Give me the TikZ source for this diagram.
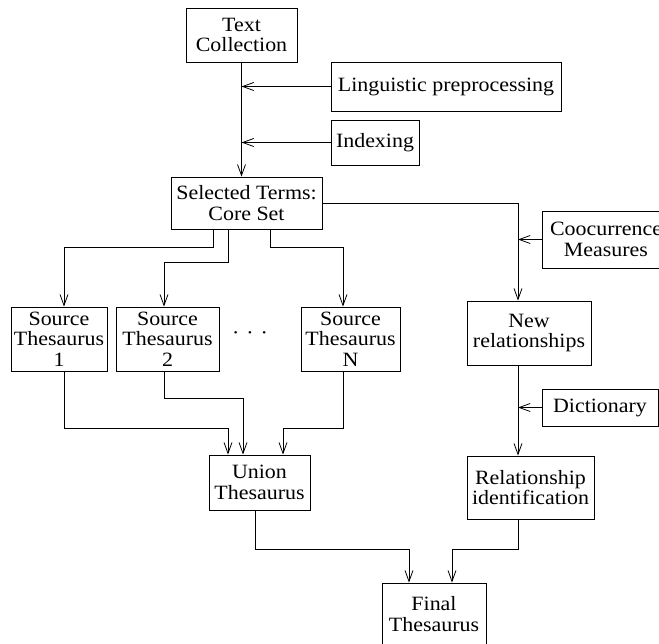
\documentclass[tikz,border=0pt]{standalone}
\usepackage{fontspec}
\setmainfont{Liberation Serif}[FakeStretch=1.08]
\usetikzlibrary{arrows.meta}
\tikzstyle{block} = [rectangle, draw, fill=white, line width=0.8pt,
                 align=center, inner sep=1pt,
                 font=\fontsize{20.3}{20.5}\selectfont]
\tikzstyle{branch} = [line width=0.8pt, draw]
\tikzstyle{feed} = [branch, -{Straight Barb[length=11pt,width=8pt]}]

\begin{document}
\begin{tikzpicture}[x=1pt, y=-1pt]

\clip (0,0) rectangle (659,644);

\node [block, minimum width=111pt, minimum height=54pt] at (241.5,35) (tc) {Text\\Collection};
\node [block, minimum width=230pt, minimum height=49pt] at (446,86.5) (ling) {Linguistic preprocessing};
\node [block, minimum width=88pt, minimum height=45pt] at (375,142.5) (idx) {Indexing};
\node [block, minimum width=151pt, minimum height=52pt] at (246.5,203) (sel) {Selected Terms:\\Core Set};

\node [block, minimum width=96pt, minimum height=64pt] at (59,339) (src1) {Source\\Thesaurus\\1};
\node [block, minimum width=103pt, minimum height=64pt] at (167.5,339) (src2) {Source\\Thesaurus\\2};
\node [block, minimum width=99pt, minimum height=64pt] at (350.5,339) (srcN) {Source\\Thesaurus\\N};
\node [font=\fontsize{20.3}{20.5}\selectfont] at (250,336) (dots) {·\hspace{7pt}·\hspace{7pt}·};

\node [block, minimum width=128pt, minimum height=57pt] at (606,239.5) (cooc) {Coocurrence\\Measures};
\node [block, minimum width=124pt, minimum height=64pt] at (529,333) (newrel) {New\\relationships};
\node [block, minimum width=116pt, minimum height=37pt] at (600,407.5) (dict) {Dictionary};
\node [block, minimum width=127pt, minimum height=63pt] at (530.5,487.5) (relid) {Relationship\\identification};

\node [block, minimum width=101pt, minimum height=55pt] at (259.5,482.5) (uni) {Union\\Thesaurus};
\node [block, minimum width=104pt, minimum height=62pt] at (434,614) (fin) {Final\\Thesaurus};

\coordinate (rbus) at ([xshift=-11pt]newrel.north);

%preprocessing
\path [feed] (tc.south) -- (tc.south |- sel.north);
\path [feed] (ling.west) -- (ling.west -| tc.south);
\path [feed] (idx.west) -- (idx.west -| tc.south);

%core set to sources
\path [feed] ([xshift=-33.5pt]sel.south) -- ++(0,18) -| ([xshift=5pt]src1.north);
\path [feed] ([xshift=-18.5pt]sel.south) -- ++(0,33) -| ([xshift=-3.5pt]src2.north);
\path [feed] ([xshift=23.5pt]sel.south) -- ++(0,18) -| ([xshift=-7.5pt]srcN.north);

%sources to union
\path [feed] ([xshift=5pt]src1.south) -- ++(0,57) -| ([xshift=-31.5pt]uni.north);
\path [feed] ([xshift=-3.5pt]src2.south) -- ++(0,27) -| ([xshift=-16.5pt]uni.north);
\path [feed] ([xshift=-7.5pt]srcN.south) -- ++(0,57) -| ([xshift=23.5pt]uni.north);

%relationships
\path [feed] (sel.east) -| (rbus);
\path [feed] (cooc.west) -- (cooc.west -| rbus);
\path [feed] (newrel.south -| rbus) -- (relid.north -| rbus);
\path [feed] (dict.west) -- (dict.west -| rbus);

%final
\path [feed] ([xshift=-4.5pt]uni.south) -- ++(0,39) -| ([xshift=-25pt]fin.north);
\path [feed] (relid.south -| rbus) -- ++(0,30) -| ([xshift=18pt]fin.north);

\end{tikzpicture}
\end{document}
